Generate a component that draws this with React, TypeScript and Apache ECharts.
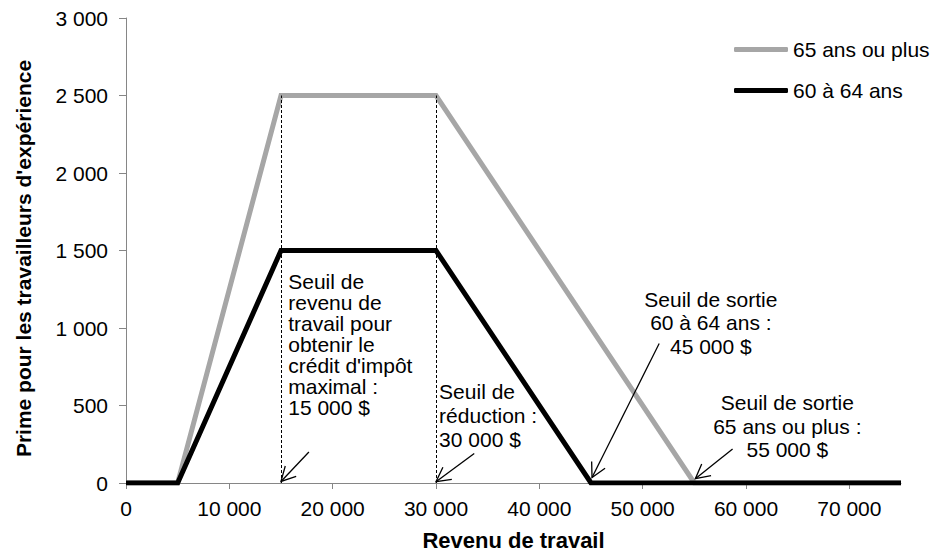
import React, { useEffect, useRef } from "react";
import * as echarts from "echarts";

// ---- Data ----
const xTickValues = [0, 10000, 20000, 30000, 40000, 50000, 60000, 70000];
const xMax = 75000;
const yMax = 3000;
const yInterval = 500;

const seriesNames = ["65 ans ou plus", "60 à 64 ans"];
const income65 = [0, 5000, 15000, 30000, 55000, 75000];
const bonus65 = [0, 0, 2500, 2500, 0, 0];
const income60 = [0, 5000, 15000, 30000, 45000, 75000];
const bonus60 = [0, 0, 1500, 1500, 0, 0];

const dashedThresholds = [15000, 30000];
const dashedTop = 2500;

// arrows: tail and head points in data units
const arrowTails = [
  [17700, 200],
  [33700, 190],
  [51600, 900],
  [58700, 220],
];
const arrowHeads = [
  [15000, 10],
  [30000, 8],
  [45100, 35],
  [55100, 28],
];

const annotationTexts = [
  "Seuil de\nrevenu de\ntravail pour\nobtenir le\ncrédit d'impôt\nmaximal :\n15 000 $",
  "Seuil de\nréduction :\n30 000 $",
  "Seuil de sortie\n60 à 64 ans :\n45 000 $",
  "Seuil de sortie\n65 ans ou plus :\n55 000 $",
];
const annotationAnchors = [
  [15700, 1365],
  [30300, 665],
  [56600, 1260],
  [64000, 595],
];
const annotationAlign = ["left", "left", "center", "center"];
const annotationLineHeight = [21, 24, 23.5, 23.5];

const FONT = "'Liberation Sans', Arial, sans-serif";
const TEXT_SIZE = 21;
const ARROW_ARM = 16;
const ARROW_ANGLE = (28 * Math.PI) / 180;

const fmt = (v: number) =>
  String(v).replace(/\B(?=(\d{3})+(?!\d))/g, " ");

export default function App() {
  const ref = useRef<HTMLDivElement>(null);

  useEffect(() => {
    if (!ref.current) return;
    const chart = echarts.init(ref.current, null, { renderer: "svg" });

    const dashedData = dashedThresholds.map((x) => [
      { coord: [x, 0] },
      { coord: [x, dashedTop] },
    ]);

    chart.setOption({
      animation: false,
      grid: { left: 126, right: 29, top: 18, bottom: 70 },
      legend: {
        orient: "vertical",
        left: 729,
        top: 34,
        itemWidth: 54,
        itemHeight: 5,
        itemGap: 20,
        icon: "roundRect",
        data: seriesNames,
        textStyle: { fontSize: TEXT_SIZE, color: "#000", fontFamily: FONT },
        selectedMode: false,
      },
      xAxis: {
        type: "value",
        min: 0,
        max: xMax,
        interval: 10000,
        name: "Revenu de travail",
        nameLocation: "middle",
        nameGap: 46,
        nameTextStyle: {
          fontSize: 22,
          fontWeight: "bold",
          color: "#000",
          fontFamily: FONT,
        },
        axisLine: { lineStyle: { color: "#868686", width: 1 } },
        axisTick: {
          show: true,
          length: 6,
          customValues: xTickValues,
          lineStyle: { color: "#868686" },
        },
        axisLabel: {
          customValues: xTickValues,
          margin: 15,
          fontSize: TEXT_SIZE,
          color: "#000",
          fontFamily: FONT,
          formatter: (v: number) => fmt(v),
        },
        splitLine: { show: false },
      },
      yAxis: {
        type: "value",
        min: 0,
        max: yMax,
        interval: yInterval,
        name: "Prime pour les travailleurs d'expérience",
        nameLocation: "middle",
        nameGap: 92,
        nameTextStyle: {
          fontSize: 21,
          fontWeight: "bold",
          color: "#000",
          fontFamily: FONT,
          padding: [0, 16, 0, 0],
        },
        axisLine: { show: true, lineStyle: { color: "#868686", width: 1 } },
        axisTick: { show: true, length: 7, lineStyle: { color: "#868686" } },
        axisLabel: {
          margin: 18,
          fontSize: TEXT_SIZE,
          color: "#000",
          fontFamily: FONT,
          formatter: (v: number) => fmt(v),
        },
        splitLine: { show: false },
      },
      series: [
        {
          name: seriesNames[0],
          type: "line",
          data: income65.map((x, i) => [x, bonus65[i]]),
          showSymbol: false,
          symbol: "none",
          color: "#A6A6A6",
          lineStyle: { color: "#A6A6A6", width: 5, join: "miter", cap: "butt" },
          silent: true,
        },
        {
          name: seriesNames[1],
          type: "line",
          data: income60.map((x, i) => [x, bonus60[i]]),
          showSymbol: false,
          symbol: "none",
          color: "#000",
          lineStyle: { color: "#000", width: 5, join: "miter", cap: "butt" },
          silent: true,
          markLine: {
            silent: true,
            symbol: "none",
            label: { show: false },
            emphasis: { disabled: true },
            lineStyle: { color: "#000", width: 1, type: [3, 2] },
            data: dashedData,
          },
        },
      ],
    });

    const texts = annotationTexts.map((text, i) => {
      const p = chart.convertToPixel({ gridIndex: 0 }, annotationAnchors[i]);
      return {
        type: "text",
        x: p[0],
        y: p[1],
        silent: true,
        style: {
          text,
          fontSize: TEXT_SIZE,
          fontFamily: FONT,
          lineHeight: annotationLineHeight[i],
          fill: "#000",
          align: annotationAlign[i],
          verticalAlign: "top",
        },
      };
    });

    const arrows: any[] = [];
    arrowTails.forEach((t, i) => {
      const tp = chart.convertToPixel({ gridIndex: 0 }, t);
      const hp = chart.convertToPixel({ gridIndex: 0 }, arrowHeads[i]);
      const dx = tp[0] - hp[0];
      const dy = tp[1] - hp[1];
      const len = Math.sqrt(dx * dx + dy * dy);
      const ux = dx / len;
      const uy = dy / len;
      const rot = (a: number) => [
        hp[0] + ARROW_ARM * (ux * Math.cos(a) - uy * Math.sin(a)),
        hp[1] + ARROW_ARM * (ux * Math.sin(a) + uy * Math.cos(a)),
      ];
      arrows.push({
        type: "line",
        silent: true,
        shape: { x1: tp[0], y1: tp[1], x2: hp[0], y2: hp[1] },
        style: { stroke: "#000", lineWidth: 1.3 },
        z: 10,
      });
      arrows.push({
        type: "polyline",
        silent: true,
        shape: { points: [rot(ARROW_ANGLE), [hp[0], hp[1]], rot(-ARROW_ANGLE)] },
        style: { stroke: "#000", lineWidth: 1.3, fill: null, lineJoin: "miter" },
        z: 10,
      });
    });

    chart.setOption({ graphic: [...texts, ...arrows] });

    return () => chart.dispose();
  }, []);

  return (
    <div
      ref={ref}
      style={{
        position: "fixed",
        left: 0,
        top: 0,
        width: 930,
        height: 556,
        background: "#fff",
      }}
    />
  );
}
